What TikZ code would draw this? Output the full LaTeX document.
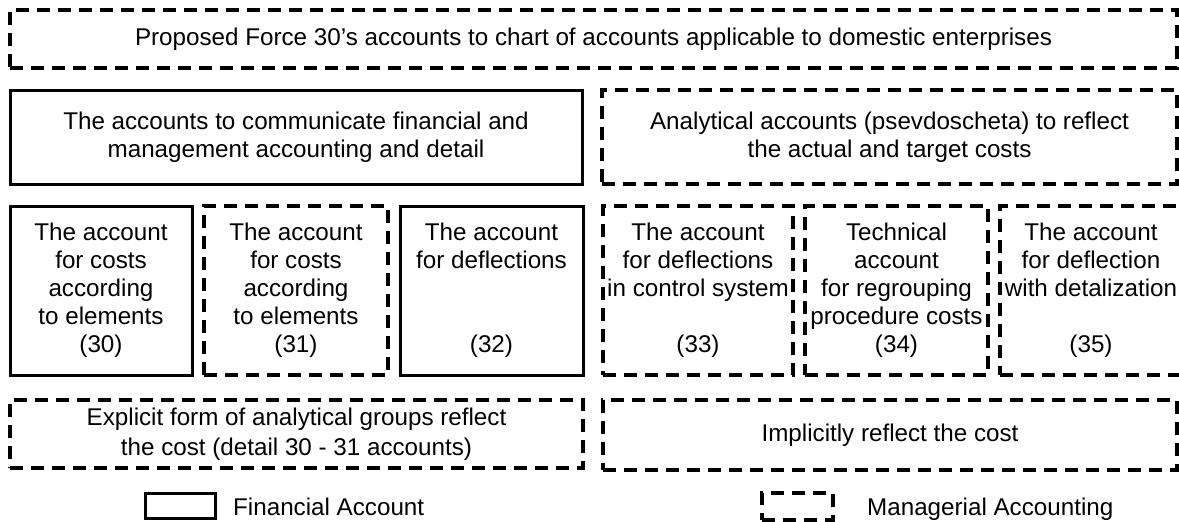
\documentclass[tikz,border=0pt]{standalone}
\usepackage{fontspec}
\setmainfont{Liberation Sans}
\begin{document}
\begin{tikzpicture}[x=1pt,y=-1pt,
  box/.style={draw, line width=3pt, rectangle, inner sep=0pt, align=center,
    font=\fontsize{24.2}{28}\selectfont},
  dbox/.style={box, line width=4pt, dash pattern=on 13pt off 8pt},
  legtext/.style={anchor=base west, inner sep=0pt, font=\fontsize{24.2}{28}\selectfont}]
\useasboundingbox (0,0) rectangle (1179,522);
\clip (0,0) rectangle (1179,522);
% top
\node[dbox, minimum width=1167pt, minimum height=58pt] (top) at (593.5,39)
  {Proposed Force 30's accounts to chart of accounts applicable to domestic enterprises};
% row 2
\node[box, minimum width=572pt, minimum height=94pt] (fin) at (296,137)
  {The accounts to communicate financial and\\management accounting and detail};
\node[dbox, minimum width=575pt, minimum height=94pt] (ana) at (889.5,137)
  {Analytical accounts (psevdoscheta) to reflect\\the actual and target costs};
% row 3
\node[box, minimum width=182pt, minimum height=169pt] (b30) at (101,290.5)
  {The account\\for costs\\according\\to elements\\(30)};
\node[dbox, minimum width=184pt, minimum height=169pt] (b31) at (296,290.5)
  {The account\\for costs\\according\\to elements\\(31)};
\node[box, minimum width=183pt, minimum height=169pt] (b32) at (491.5,290.5)
  {The account\\for deflections\\~\\~\\(32)};
\node[dbox, minimum width=190pt, minimum height=169pt] (b33) at (698,290.5)
  {The account\\for deflections\\in control system\\~\\(33)};
\node[dbox, minimum width=183pt, minimum height=169pt] (b34) at (896.5,290.5)
  {Technical\\account\\for regrouping\\procedure costs\\(34)};
\node[dbox, minimum width=182pt, minimum height=169pt] (b35) at (1091,290.5)
  {The account\\for deflection\\with detalization\\~\\(35)};
% row 4
\node[dbox, minimum width=573pt, minimum height=68pt,
  font=\fontsize{24.2}{30}\selectfont] (expl) at (296.5,434)
  {Explicit form of analytical groups reflect\\the cost (detail 30 - 31 accounts)};
\node[dbox, minimum width=574pt, minimum height=70pt] (impl) at (890,435)
  {Implicitly reflect the cost};
% legend
\node[box, minimum width=70pt, minimum height=25pt] (legfin) at (180,505.5) {};
\node[legtext] (legfintext) at (233,515) {Financial Account};
\node[dbox, minimum width=71pt, minimum height=27pt] (legman) at (797.5,506.5) {};
\node[legtext] (legmantext) at (867,515) {Managerial Accounting};
\end{tikzpicture}
\end{document}
